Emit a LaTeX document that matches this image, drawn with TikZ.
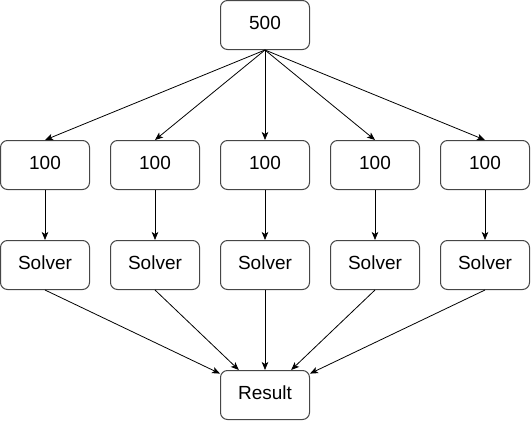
\documentclass[tikz,border=0pt]{standalone}
\usepackage{fontspec}
\setmainfont{Liberation Sans}
\usetikzlibrary{arrows.meta,positioning}
\definecolor{boxgray}{RGB}{70,70,70}

\begin{document}
\begin{tikzpicture}[x=1pt, y=1pt,
    block/.style={rectangle, draw=boxgray, line width=1pt, fill=white, minimum width=89pt, minimum height=49pt, inner sep=0pt, text depth=4pt, rounded corners=7pt, font=\fontsize{19}{23}\selectfont},
    arr/.style={-{Stealth[length=8pt, width=6.5pt, inset=2pt]}, line width=0.8pt, black}]
    \useasboundingbox (0,0) rectangle (531,-421);
    \node [block] (total) at (265,-25) {500};
    % chunk row
    \node [block, below=90pt of total] (chunkc) {100};
    \node [block, left=20pt of chunkc] (chunkb) {100};
    \node [block, left=20pt of chunkb] (chunka) {100};
    \node [block, right=20pt of chunkc] (chunkd) {100};
    \node [block, right=20pt of chunkd] (chunke) {100};
    % solver row
    \node [block, below=50pt of chunka] (solvera) {Solver};
    \node [block, below=50pt of chunkb] (solverb) {Solver};
    \node [block, below=50pt of chunkc] (solverc) {Solver};
    \node [block, below=50pt of chunkd] (solverd) {Solver};
    \node [block, below=50pt of chunke] (solvere) {Solver};
    \node [block, below=80pt of solverc] (result) {Result};
    \draw[arr] (total.south) -- (chunka.north);
    \draw[arr] (total.south) -- (chunkb.north);
    \draw[arr] (total.south) -- (chunkc.north);
    \draw[arr] (total.south) -- (chunkd.north);
    \draw[arr] (total.south) -- (chunke.north);
    \draw[arr] (chunka) -- (solvera);
    \draw[arr] (chunkb) -- (solverb);
    \draw[arr] (chunkc) -- (solverc);
    \draw[arr] (chunkd) -- (solverd);
    \draw[arr] (chunke) -- (solvere);
    \draw[arr] (solvera.south) -- (result);
    \draw[arr] (solverb.south) -- (result);
    \draw[arr] (solverc.south) -- (result);
    \draw[arr] (solverd.south) -- (result);
    \draw[arr] (solvere.south) -- (result);
\end{tikzpicture}
\end{document}
